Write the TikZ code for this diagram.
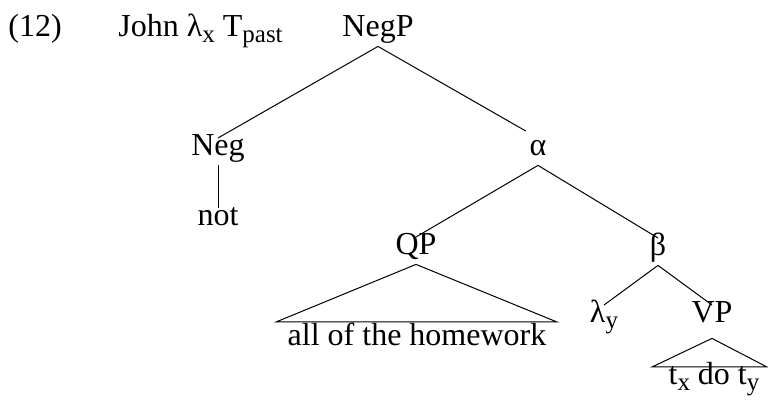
\documentclass[tikz,border=0pt]{standalone}
\usepackage{fontspec}
\setmainfont{Liberation Serif}
\newcommand{\sbs}[1]{\raisebox{-3pt}{\fontsize{12.5}{12.5}\selectfont #1}}
\tikzset{
  lbl/.style={anchor=base, inner sep=2pt, text height=0.68em, text depth=0.25em,
    font=\fontsize{16}{19}\selectfont},
  branch/.style={line width=0.5pt},
}
\begin{document}
\begin{tikzpicture}[x=0.5pt,y=-0.5pt]
  \useasboundingbox (0,0) rectangle (768,401);
  \node[lbl,anchor=base west] (exno) at (4,37) {(12)};
  \node[lbl,anchor=base west] (pre) at (114,37) {John λ\sbs{x} T\sbs{past}};
  \node[lbl] (negp) at (378,37) {NegP};
  \node[lbl] (neg) at (218,156) {Neg};
  \node[lbl] (not) at (218,226) {not};
  \node[lbl] (alpha) at (538,156) {α};
  \node[lbl] (qp) at (416,255) {QP};
  \node[lbl] (hw) at (417,346) {all of the homework};
  \node[lbl] (beta) at (658,256) {β};
  \node[lbl] (lam) at (604,323) {λ\sbs{y}};
  \node[lbl] (vp) at (712,323) {VP};
  \node[lbl] (tdo) at (714,385) {t\sbs{x} do t\sbs{y}};
  % branches
  \draw[branch] (negp.south) -- (neg.north);
  \draw[branch,shorten >=7pt] (negp.south) -- (alpha.north);
  \draw[branch] (neg.south) -- (not.north);
  \draw[branch] (alpha.south) -- (qp.north);
  \draw[branch] (alpha.south) -- (beta.north);
  \draw[branch] (beta.south) -- (lam.north);
  \draw[branch] (beta.south) -- (vp.north);
  % roofs
  \draw[branch] (qp.south) -- ([xshift=-70.5pt,yshift=3pt]hw.north)
    -- ([xshift=70pt,yshift=3pt]hw.north) -- cycle;
  \draw[branch] ([yshift=-3pt]vp.south) -- ([xshift=-31pt]tdo.north)
    -- ([xshift=26.5pt]tdo.north) -- cycle;
\end{tikzpicture}
\end{document}
